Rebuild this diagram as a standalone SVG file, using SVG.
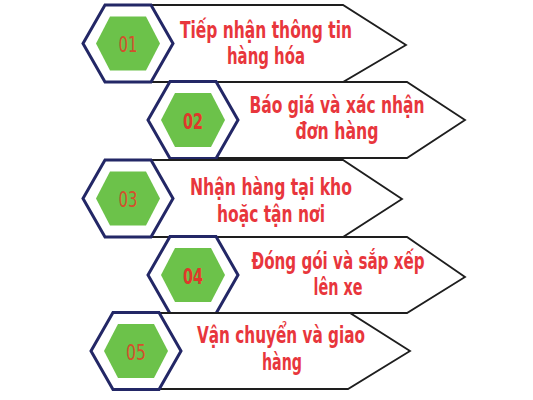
<svg xmlns="http://www.w3.org/2000/svg" width="533" height="400" viewBox="0 0 533 400">
<style>
.arrow{fill:#ffffff;stroke:#1e1e1e;stroke-width:1.8;stroke-linejoin:miter}
.hexo{fill:#ffffff;stroke:#232766;stroke-width:3;stroke-linejoin:miter}
.hexi{fill:#6cc24a}
.lbl{font-family:"DejaVu Sans Condensed","DejaVu Sans",sans-serif;font-weight:bold;font-size:22.5px;fill:#e8363c;text-anchor:middle}
.num{font-family:"DejaVu Sans Condensed","DejaVu Sans",sans-serif;font-size:22px;fill:#d4502c;text-anchor:middle}
.numb{font-family:"DejaVu Sans Condensed","DejaVu Sans",sans-serif;font-weight:bold;font-size:22px;fill:#e0382a;text-anchor:middle}
</style>
<defs>
<polygon id="ho" points="-45,0 -23,-38.5 23,-38.5 45,0 23,38.5 -23,38.5"/>
<polygon id="hi" points="-32,0 -18,-27 18,-27 32,0 18,27 -18,27"/>
</defs>
<rect width="533" height="400" fill="#ffffff"/>
<g id="connectors"/>
<g id="step1">
<path class="arrow" d="M128,5 L343,5 L406,45 L343,82 L128,82 Z"/>
<use href="#ho" class="hexo" x="128" y="43.5"/>
<use href="#hi" class="hexi" x="128" y="43.5"/>
<text class="num" x="128" y="52" textLength="19" lengthAdjust="spacingAndGlyphs">01</text>
<text class="lbl" x="266" y="38" textLength="172" lengthAdjust="spacingAndGlyphs">Tiếp nhận thông tin</text>
<text class="lbl" x="266" y="64" textLength="78" lengthAdjust="spacingAndGlyphs">hàng hóa</text>
</g>
<g id="step2">
<path class="arrow" d="M193,82 L407,82 L465,120 L407,158 L193,158 Z"/>
<use href="#ho" class="hexo" x="193" y="120"/>
<use href="#hi" class="hexi" x="193" y="120"/>
<text class="numb" x="193" y="129" textLength="20" lengthAdjust="spacingAndGlyphs">02</text>
<text class="lbl" x="337" y="113" textLength="175" lengthAdjust="spacingAndGlyphs">Báo giá và xác nhận</text>
<text class="lbl" x="337" y="139" textLength="83" lengthAdjust="spacingAndGlyphs">đơn hàng</text>
</g>
<g id="step3">
<path class="arrow" d="M128,160 L343,160 L402,199 L343,237 L128,237 Z"/>
<use href="#ho" class="hexo" x="128" y="198.5"/>
<use href="#hi" class="hexi" x="128" y="198.5"/>
<text class="num" x="128" y="207" textLength="19" lengthAdjust="spacingAndGlyphs">03</text>
<text class="lbl" x="271" y="195" textLength="162" lengthAdjust="spacingAndGlyphs">Nhận hàng tại kho</text>
<text class="lbl" x="271" y="222" textLength="108" lengthAdjust="spacingAndGlyphs">hoặc tận nơi</text>
</g>
<g id="step4">
<path class="arrow" d="M193,237 L407,237 L465,277 L407,313 L193,313 Z"/>
<use href="#ho" class="hexo" x="193" y="275"/>
<use href="#hi" class="hexi" x="193" y="275"/>
<text class="numb" x="193" y="284" textLength="20" lengthAdjust="spacingAndGlyphs">04</text>
<text class="lbl" x="338" y="269" textLength="173" lengthAdjust="spacingAndGlyphs">Đóng gói và sắp xếp</text>
<text class="lbl" x="338" y="295" textLength="49" lengthAdjust="spacingAndGlyphs">lên xe</text>
</g>
<g id="step5">
<path class="arrow" d="M136,313 L350,313 L410,351 L348,389 L136,389 Z"/>
<use href="#ho" class="hexo" x="136" y="351"/>
<use href="#hi" class="hexi" x="136" y="351"/>
<text class="num" x="136" y="360" textLength="20" lengthAdjust="spacingAndGlyphs">05</text>
<text class="lbl" x="281" y="343" textLength="168" lengthAdjust="spacingAndGlyphs">Vận chuyển và giao</text>
<text class="lbl" x="282" y="370" textLength="40" lengthAdjust="spacingAndGlyphs">hàng</text>
</g>
</svg>
